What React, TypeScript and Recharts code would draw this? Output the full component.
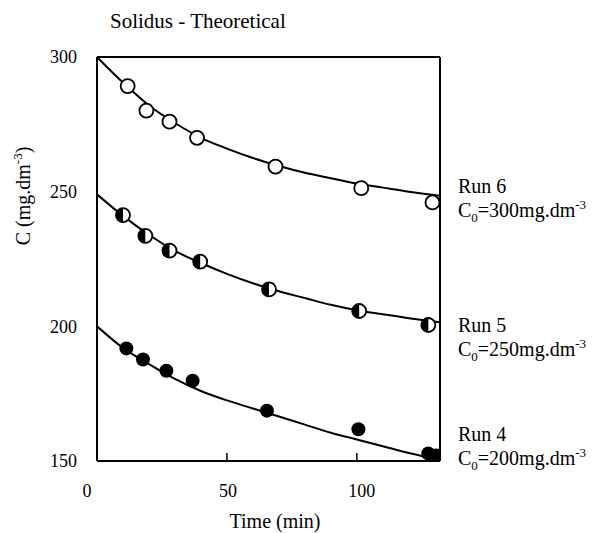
import React from 'react';
import {
  ComposedChart,
  Line,
  Scatter,
  XAxis,
  YAxis,
  ReferenceLine,
} from 'recharts';

// time (min) grid on which the theoretical curves were read
const curveTimes = [0, 10, 20, 30, 40, 50, 60, 70, 80, 90, 100, 110, 120, 132];
const run6Curve = [300, 290.5, 282, 275.5, 270, 266, 262.5, 259.5, 257, 255, 253, 251.5, 250, 248.5];
const run5Curve = [249, 241, 234, 228, 223.5, 219.5, 216, 213, 210.5, 208, 206, 204.5, 203, 201.5];
const run4Curve = [200, 192, 186, 180.5, 176, 172.5, 169.5, 166.5, 163.5, 160.5, 158, 155.5, 153, 150.5];

// measured points
const run6Times = [11.8, 19, 27.9, 38.5, 68.7, 101.7, 129.1];
const run6Values = [289.2, 280.1, 276, 270, 259.3, 251.3, 246];
const run5Times = [10, 18.6, 27.9, 39.7, 66.2, 100.9, 127.5];
const run5Values = [241.3, 233.6, 228.1, 224, 213.7, 205.7, 200.5];
const run4Times = [11.3, 17.7, 26.7, 36.8, 65.4, 100.6, 127.5, 130.5];
const run4Values = [191.8, 187.7, 183.5, 179.8, 168.7, 161.8, 152.8, 152];

const xTicks = [0, 50, 100];
const yTicks = [150, 200, 250, 300];

const toRows = (xs: number[], ys: number[]) => xs.map((x, i) => ({ x, c: ys[i] }));

const FONT = 'Liberation Serif, Times New Roman, serif';
const R = 7;

const OpenDot = (p: any) => (
  <circle cx={p.cx} cy={p.cy} r={R} fill="#fff" stroke="#000" strokeWidth={1.8} />
);

const HalfDot = (p: any) => (
  <g>
    <circle cx={p.cx} cy={p.cy} r={R} fill="#fff" stroke="#000" strokeWidth={1.8} />
    <path d={`M ${p.cx} ${p.cy - R} A ${R} ${R} 0 0 0 ${p.cx} ${p.cy + R} Z`} fill="#000" />
  </g>
);

const FullDot = (p: any) => <circle cx={p.cx} cy={p.cy} r={R} fill="#000" />;

const TICK_GAP = 24;

const XTick = (p: any) => {
  const v = p.payload.value;
  const shift = v === 0 ? -10 : v === 100 ? 5 : 1;
  const axisY = p.y - TICK_GAP;
  return (
    <g>
      {v !== 0 && <line x1={p.x} x2={p.x} y1={axisY} y2={axisY - 8} stroke="#000" strokeWidth={1.5} />}
      <text x={p.x + shift} y={p.y + 12} textAnchor="middle" fontFamily={FONT} fontSize={18} fill="#000">
        {v}
      </text>
    </g>
  );
};

const RunLabel = ({ x, y, run, c0 }: { x: number; y: number; run: string; c0: string }) => (
  <text x={x} y={y} fontFamily={FONT} fontSize={20} fill="#000">
    <tspan x={x}>{run}</tspan>
    <tspan x={x} dy={24}>C</tspan>
    <tspan fontSize={13} dy={5}>0</tspan>
    <tspan dy={-5}>{`=${c0}mg.dm`}</tspan>
    <tspan fontSize={13} dy={-8}>-3</tspan>
  </text>
);

export default function App() {
  return (
    <div style={{ position: 'absolute', left: 0, top: 0, background: '#fff' }}>
      <ComposedChart width={596} height={533} margin={{ top: 57, right: 156, left: 37, bottom: 32 }}>
        <XAxis
          dataKey="x"
          type="number"
          domain={[0, 132]}
          ticks={xTicks}
          allowDataOverflow
          axisLine={{ stroke: '#000', strokeWidth: 2 }}
          tickLine={false}
          tickSize={0}
          tickMargin={TICK_GAP}
          tick={<XTick />}
          height={40}
        />
        <YAxis
          type="number"
          domain={[150, 300]}
          ticks={yTicks}
          allowDataOverflow
          axisLine={{ stroke: '#000', strokeWidth: 2 }}
          tickLine={false}
          tickSize={0}
          tickMargin={20}
          tick={{ fill: '#000', fontFamily: FONT, fontSize: 18 }}
          width={60}
        />
        <ReferenceLine y={300} stroke="#000" strokeWidth={2} />
        <ReferenceLine x={132} stroke="#000" strokeWidth={2} />

        <Line data={toRows(curveTimes, run6Curve)} dataKey="c" type="monotone" stroke="#000" strokeWidth={2} dot={false} isAnimationActive={false} />
        <Line data={toRows(curveTimes, run5Curve)} dataKey="c" type="monotone" stroke="#000" strokeWidth={2} dot={false} isAnimationActive={false} />
        <Line data={toRows(curveTimes, run4Curve)} dataKey="c" type="monotone" stroke="#000" strokeWidth={2} dot={false} isAnimationActive={false} />

        <Scatter data={toRows(run6Times, run6Values)} dataKey="c" shape={<OpenDot />} isAnimationActive={false} />
        <Scatter data={toRows(run5Times, run5Values)} dataKey="c" shape={<HalfDot />} isAnimationActive={false} />
        <Scatter data={toRows(run4Times, run4Values)} dataKey="c" shape={<FullDot />} isAnimationActive={false} />

        <text x={110} y={28} fontFamily={FONT} fontSize={21} fill="#000">Solidus - Theoretical</text>
        <text x={275} y={528} textAnchor="middle" fontFamily={FONT} fontSize={20} fill="#000">Time (min)</text>
        <text x={30} y={196} textAnchor="middle" transform="rotate(-90 30 196)" fontFamily={FONT} fontSize={20} fill="#000">
          C (mg.dm<tspan fontSize={13} dy={-8}>-3</tspan><tspan dy={8}>)</tspan>
        </text>
        <RunLabel x={458} y={193} run="Run 6" c0="300" />
        <RunLabel x={458} y={332} run="Run 5" c0="250" />
        <RunLabel x={458} y={441} run="Run 4" c0="200" />
      </ComposedChart>
    </div>
  );
}
